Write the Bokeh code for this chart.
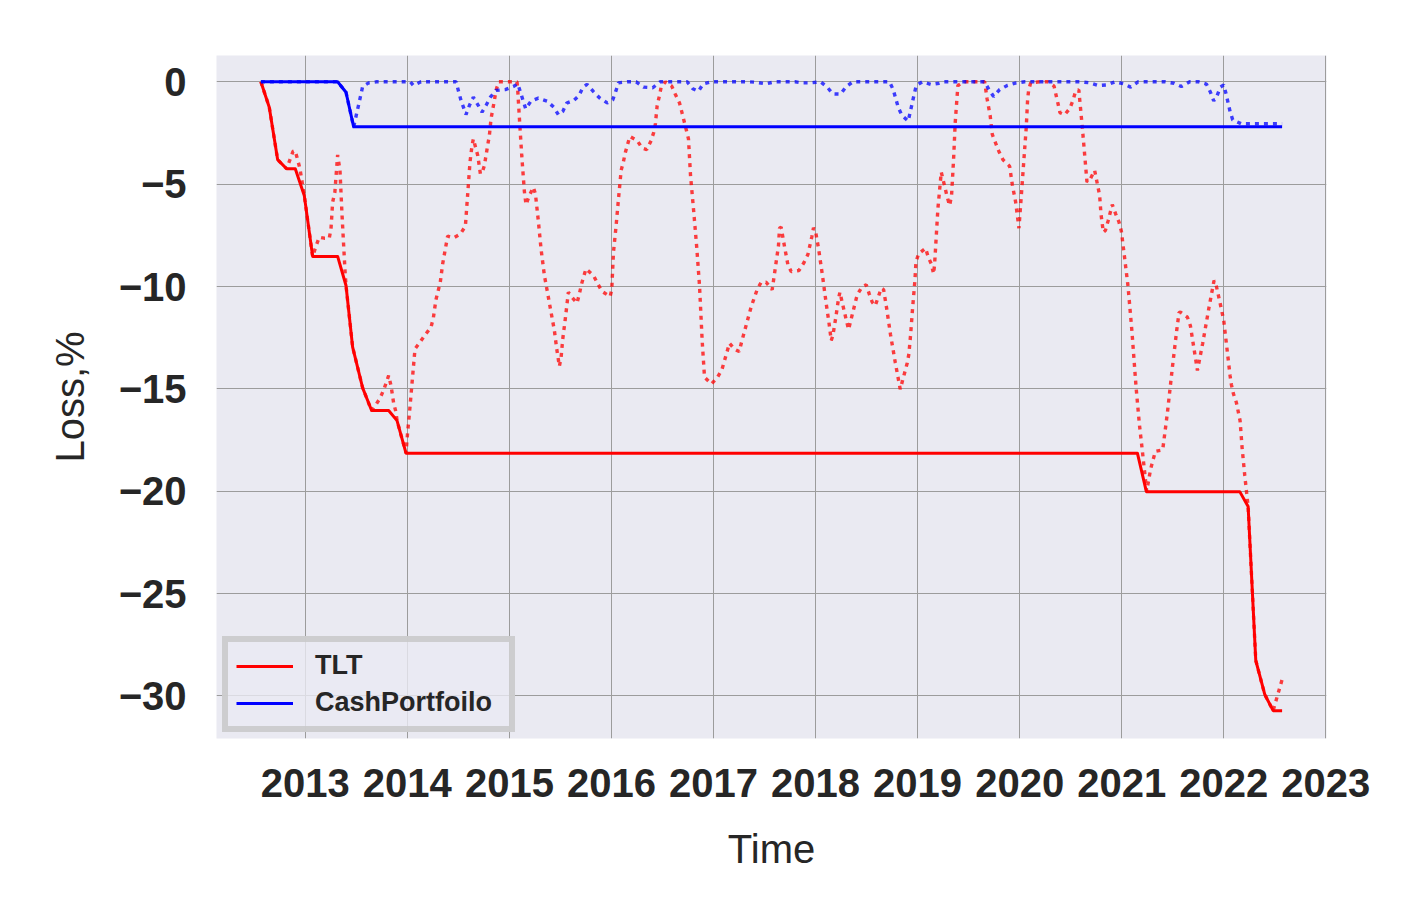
from bokeh.plotting import figure
from bokeh.models import (Range1d, FixedTicker, CustomJSTickFormatter, Legend, LegendItem,
                          ColumnDataSource)
from bokeh.embed import file_html
from bokeh.resources import INLINE

# ---------------- data (decimal years, loss in %) ----------------
tlt_t = [2012.565, 2012.647, 2012.729, 2012.817, 2012.85, 2012.88, 2012.9, 2012.925, 2012.948,
         2012.99, 2013.072, 2013.105, 2013.137, 2013.186, 2013.235, 2013.252, 2013.268, 2013.29,
         2013.317, 2013.34, 2013.36, 2013.39, 2013.399, 2013.464, 2013.562, 2013.65, 2013.683,
         2013.732, 2013.768, 2013.797, 2013.817, 2013.84, 2013.866, 2013.889, 2013.899, 2013.987,
         2014.003, 2014.02, 2014.075, 2014.124, 2014.176, 2014.232, 2014.255, 2014.28, 2014.323,
         2014.346, 2014.395, 2014.454, 2014.52, 2014.569, 2014.614, 2014.634, 2014.647, 2014.69,
         2014.716, 2014.735, 2014.755, 2014.787, 2014.804, 2014.82, 2014.853, 2014.869, 2014.895,
         2014.967, 2015.075, 2015.082, 2015.098, 2015.121, 2015.147, 2015.163, 2015.196, 2015.235,
         2015.255, 2015.284, 2015.31, 2015.343, 2015.376, 2015.408, 2015.441, 2015.464, 2015.49,
         2015.507, 2015.523, 2015.546, 2015.578, 2015.618, 2015.663, 2015.686, 2015.706, 2015.75,
         2015.824, 2015.866, 2015.908, 2015.987, 2016.003, 2016.02, 2016.046, 2016.069, 2016.095,
         2016.118, 2016.137, 2016.18, 2016.252, 2016.301, 2016.346, 2016.389, 2016.415, 2016.431,
         2016.448, 2016.471, 2016.487, 2016.53, 2016.591, 2016.627, 2016.667, 2016.69, 2016.735,
         2016.755, 2016.775, 2016.807, 2016.837, 2016.863, 2016.889, 2016.912, 2016.98, 2017.036,
         2017.082, 2017.157, 2017.206, 2017.252, 2017.275, 2017.37, 2017.428, 2017.467, 2017.516,
         2017.575, 2017.6, 2017.637, 2017.647, 2017.663, 2017.696, 2017.729, 2017.761, 2017.837,
         2017.886, 2017.925, 2017.964, 2017.98, 2018.0, 2018.03, 2018.069, 2018.105, 2018.131,
         2018.154, 2018.17, 2018.199, 2018.225, 2018.239, 2018.261, 2018.301, 2018.324, 2018.343,
         2018.386, 2018.408, 2018.454, 2018.497, 2018.526, 2018.556, 2018.585, 2018.614, 2018.644,
         2018.667, 2018.696, 2018.735, 2018.781, 2018.83, 2018.853, 2018.899, 2018.915, 2018.931,
         2018.951, 2018.974, 2018.984, 2019.01, 2019.078, 2019.105, 2019.134, 2019.157, 2019.167,
         2019.199, 2019.232, 2019.248, 2019.291, 2019.314, 2019.333, 2019.353, 2019.369, 2019.395,
         2019.454, 2019.657, 2019.68, 2019.712, 2019.732, 2019.765, 2019.797, 2019.837, 2019.902,
         2019.928, 2019.961, 2019.993, 2020.013, 2020.039, 2020.065, 2020.078, 2020.088, 2020.108,
         2020.196, 2020.278, 2020.337, 2020.376, 2020.395, 2020.441, 2020.493, 2020.526, 2020.549,
         2020.58, 2020.588, 2020.614, 2020.66, 2020.693, 2020.735, 2020.768, 2020.784, 2020.797,
         2020.82, 2020.84, 2020.866, 2020.908, 2020.941, 2020.974, 2020.997, 2021.03, 2021.062,
         2021.101, 2021.141, 2021.173, 2021.203, 2021.245, 2021.27, 2021.284, 2021.33, 2021.402,
         2021.448, 2021.497, 2021.539, 2021.562, 2021.575, 2021.644, 2021.673, 2021.742, 2021.794,
         2021.856, 2021.905, 2021.925, 2021.964, 2022.0, 2022.062, 2022.075, 2022.095, 2022.124,
         2022.16, 2022.18, 2022.206, 2022.239, 2022.314, 2022.402, 2022.484, 2022.572]
tlt_loss = [0, -1.24, -3.8, -4.25, -3.8, -3.4, -3.36, -3.8, -4.25,
            -5.55, -8.53, -8.03, -7.59, -7.64, -7.64, -7.18, -5.88, -5.39,
            -3.57, -4.33, -6.5, -9.3, -9.95, -12.96, -14.95, -16.06, -15.84,
            -15.46, -15.06, -14.64, -14.35, -14.84, -15.7, -16.14, -16.55, -18.14,
            -17.12, -16.22, -13.05, -12.72, -12.35, -11.99, -11.53, -10.65, -9.79,
            -8.9, -7.54, -7.62, -7.43, -7.05, -3.92, -3.11, -2.79, -3.6,
            -4.5, -4.41, -4.09, -3.11, -2.62, -1.81, -0.91, -0.42, 0,
            0, 0, -0.42, -1.76, -3.6, -5.36, -6.0, -5.55, -5.15,
            -5.47, -6.81, -8.16, -9.46, -10.36, -11.25, -12.15, -13.05, -13.9,
            -13.45, -12.56, -11.66, -10.28, -10.55, -10.81, -10.36, -9.9, -9.14,
            -9.46, -9.87, -10.24, -10.49, -10.16, -8.32, -7.02, -5.72, -4.33,
            -3.89, -3.44, -2.67, -2.87, -3.24, -3.31, -2.87, -2.46, -2.05,
            -1.16, -0.67, -0.26, 0, -0.21, -0.62, -1.03, -1.48, -2.38,
            -2.79, -4.58, -6.37, -8.16, -9.95, -12.64, -14.43, -14.76, -14.46,
            -14.07, -12.77, -13.06, -13.18, -12.72, -10.98, -10.15, -9.79, -9.79,
            -10.16, -9.3, -8.0, -7.15, -7.1, -8.05, -8.93, -9.27, -9.22,
            -8.84, -8.44, -7.56, -7.13, -7.3, -8.16, -9.5, -10.85, -11.74,
            -12.64, -12.39, -11.5, -10.6, -10.28, -10.77, -11.63, -12.1, -11.71,
            -10.85, -10.41, -10.03, -9.92, -10.36, -10.77, -10.94, -10.52, -10.08,
            -10.15, -11.04, -12.36, -13.7, -15.02, -14.59, -13.73, -13.29, -12.39,
            -11.06, -9.7, -8.81, -8.4, -8.13, -8.57, -8.89, -9.38, -8.89,
            -6.2, -4.41, -4.74, -5.64, -6.04, -5.55, -3.76, -1.97, -0.18,
            0, 0, -0.8, -1.68, -2.57, -3.0, -3.4, -3.81, -4.12,
            -5.02, -5.88, -7.15, -5.81, -4.0, -2.21, -0.88, -0.42, -0.05,
            0, 0, -0.21, -1.07, -1.51, -1.61, -1.29, -0.86, -0.44,
            -0.4, -0.83, -2.21, -4.9, -4.74, -4.33, -5.15, -5.55, -6.45,
            -7.35, -7.26, -6.81, -6.0, -6.45, -6.86, -7.3, -8.65, -9.98,
            -12.23, -14.92, -16.71, -18.05, -20.0, -19.3, -18.91, -18.05, -17.98,
            -16.17, -13.94, -12.15, -11.27, -11.25, -11.5, -11.91, -14.1, -12.77,
            -11.01, -9.71, -9.92, -10.8, -11.66, -14.35, -14.79, -15.24, -15.67,
            -16.55, -17.88, -19.23, -20.75, -28.27, -29.93, -30.72, -29.2]

tlt_max_t = [2012.565, 2012.647, 2012.729, 2012.817, 2012.902, 2012.99, 2013.072, 2013.317,
             2013.399, 2013.464, 2013.562, 2013.65, 2013.817, 2013.899, 2013.987, 2021.154,
             2021.242, 2022.157, 2022.239, 2022.314, 2022.402, 2022.484, 2022.572]
tlt_max_loss = [0, -1.24, -3.8, -4.25, -4.25, -5.55, -8.53, -8.53,
                -9.95, -12.96, -14.95, -16.06, -16.06, -16.55, -18.14, -18.14,
                -20.02, -20.02, -20.75, -28.27, -29.93, -30.72, -30.72]

cash_t = [2012.565, 2013.317, 2013.399, 2013.474, 2013.503, 2013.523, 2013.562, 2013.621, 2013.7,
          2014.03, 2014.059, 2014.134, 2014.477, 2014.526, 2014.575, 2014.608, 2014.647, 2014.69,
          2014.732, 2014.771, 2014.814, 2014.869, 2014.96, 2015.039, 2015.082, 2015.108, 2015.16,
          2015.212, 2015.284, 2015.369, 2015.435, 2015.48, 2015.523, 2015.562, 2015.631, 2015.683,
          2015.719, 2015.761, 2015.82, 2015.882, 2015.958, 2016.013, 2016.042, 2016.069, 2016.154,
          2016.242, 2016.314, 2016.405, 2016.477, 2016.742, 2016.797, 2016.853, 2016.899, 2016.977,
          2017.35, 2017.428, 2017.516, 2017.598, 2017.8, 2017.869, 2017.958, 2018.049, 2018.114,
          2018.17, 2018.245, 2018.301, 2018.366, 2018.725, 2018.761, 2018.81, 2018.846, 2018.908,
          2018.928, 2018.967, 2018.987, 2019.046, 2019.134, 2019.212, 2019.26, 2019.657, 2019.699,
          2019.745, 2019.804, 2019.879, 2019.967, 2020.049, 2020.6, 2020.686, 2020.768, 2020.853,
          2020.938, 2021.02, 2021.088, 2021.16, 2021.422, 2021.513, 2021.585, 2021.667, 2021.755,
          2021.83, 2021.869, 2021.902, 2021.935, 2021.967, 2022.0, 2022.023, 2022.062, 2022.088,
          2022.173, 2022.572]
cash_loss = [0, 0, -0.51, -2.2, -1.56, -1.12, -0.23, -0.05, 0,
             0, -0.18, 0, 0, -0.91, -1.6, -1.16, -0.75, -1.11,
             -1.48, -1.16, -0.75, -0.42, -0.38, -0.23, -0.1, -0.5, -1.32,
             -0.94, -0.8, -0.94, -1.24, -1.61, -1.45, -1.04, -0.91, -0.67,
             -0.28, -0.13, -0.46, -0.78, -1.03, -0.88, -0.47, -0.05, 0,
             0, -0.26, -0.29, 0, 0, -0.34, -0.46, -0.1, 0,
             0, -0.03, -0.1, 0, 0, -0.05, -0.05, 0, -0.26,
             -0.59, -0.6, -0.23, 0, 0, -0.38, -1.24, -1.64, -1.92,
             -1.48, -0.6, -0.18, 0, -0.13, -0.07, 0, 0, -0.38,
             -0.72, -0.38, -0.18, -0.05, 0, 0, -0.05, -0.18, -0.15,
             0, -0.1, -0.26, 0, 0, -0.07, -0.23, 0, 0,
             -0.11, -0.5, -0.93, -0.67, -0.26, -0.15, -0.59, -1.45, -1.86,
             -2.05, -2.05]

cash_max_t = [2012.565, 2013.317, 2013.399, 2013.474, 2022.572]
cash_max_loss = [0, 0, -0.51, -2.2, -2.2]

x_ticks = [2013, 2014, 2015, 2016, 2017, 2018, 2019, 2020, 2021, 2022, 2023]
y_ticks = [-30, -25, -20, -15, -10, -5, 0]
series_names = ["TLT", "CashPortfoilo"]

# ---------------- figure ----------------
TEXT = "#262626"
FONT = "Liberation Sans"

p = figure(frame_width=1110, frame_height=683,
           min_border_left=216, min_border_right=86, min_border_top=55, min_border_bottom=174,
           x_range=Range1d(2012.13, 2023.007), y_range=Range1d(-32.08, 1.285),
           output_backend="svg", toolbar_location=None,
           background_fill_color="#EAEAF2", border_fill_color="white", outline_line_color=None)

src_tlt = ColumnDataSource(dict(x=tlt_t, y=tlt_loss))
src_tlt_max = ColumnDataSource(dict(x=tlt_max_t, y=tlt_max_loss))
src_cash = ColumnDataSource(dict(x=cash_t, y=cash_loss))
src_cash_max = ColumnDataSource(dict(x=cash_max_t, y=cash_max_loss))

p.line("x", "y", source=src_tlt, line_color="red", line_alpha=0.75, line_width=3.4,
       line_dash="4 5", line_cap="butt")
r_tlt = p.line("x", "y", source=src_tlt_max, line_color="red", line_width=3, line_join="round")
p.line("x", "y", source=src_cash, line_color="blue", line_alpha=0.75, line_width=3.4,
       line_dash="4 5", line_cap="butt")
r_cash = p.line("x", "y", source=src_cash_max, line_color="blue", line_width=3, line_join="round")

# grid
for g in (p.xgrid, p.ygrid):
    g.grid_line_color = "#9c9c9c"
    g.grid_line_width = 1
p.xgrid.ticker = FixedTicker(ticks=x_ticks)
p.ygrid.ticker = FixedTicker(ticks=y_ticks)

# axes
p.xaxis.ticker = FixedTicker(ticks=x_ticks)
p.yaxis.ticker = FixedTicker(ticks=y_ticks)
p.yaxis.formatter = CustomJSTickFormatter(
    code="return tick < 0 ? '\u2212' + Math.abs(tick).toString() : tick.toString();")
for ax in (p.xaxis[0], p.yaxis[0]):
    ax.axis_line_color = None
    ax.major_tick_line_color = None
    ax.minor_tick_line_color = None
    ax.major_label_text_font = FONT
    ax.major_label_text_font_style = "bold"
    ax.major_label_text_font_size = "40px"
    ax.major_label_text_color = TEXT
    ax.axis_label_text_font = FONT
    ax.axis_label_text_font_style = "normal"
    ax.axis_label_text_font_size = "40px"
    ax.axis_label_text_color = TEXT

p.xaxis.axis_label = "Time"
p.yaxis.axis_label = "Loss,%"
p.xaxis.major_label_standoff = 24
p.yaxis.major_label_standoff = 24
p.xaxis.axis_label_standoff = 27
p.yaxis.axis_label_standoff = 24

legend = Legend(items=[LegendItem(label=series_names[0], renderers=[r_tlt]),
                       LegendItem(label=series_names[1], renderers=[r_cash])],
                location="bottom_left", margin=6, padding=8, spacing=6,
                glyph_width=57, glyph_height=30, label_height=30, label_standoff=22,
                label_width=186,
                label_text_font=FONT, label_text_font_style="bold",
                label_text_font_size="27px", label_text_color=TEXT,
                background_fill_color="#EAEAF2", background_fill_alpha=0.8,
                border_line_color="#c8c8c8", border_line_alpha=0.85, border_line_width=6)
p.add_layout(legend)

open("out.html", "w").write(file_html(p, INLINE))
